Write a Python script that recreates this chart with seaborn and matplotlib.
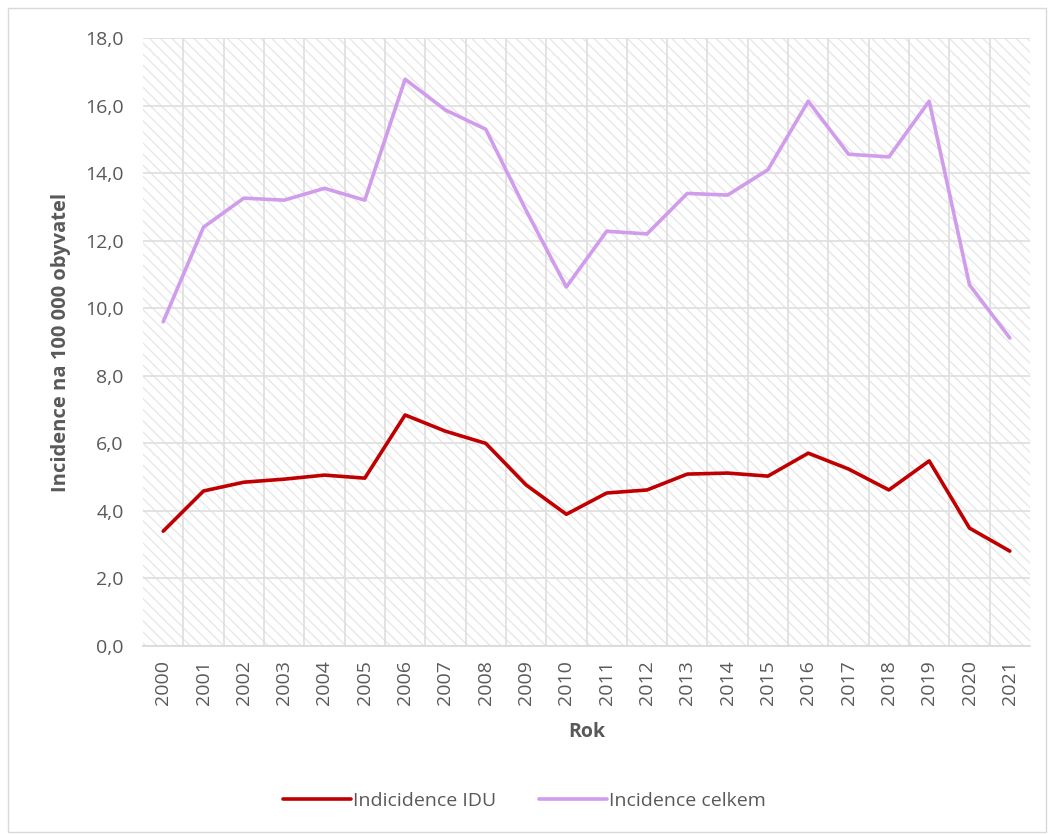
import matplotlib
matplotlib.use("Agg")
import matplotlib.pyplot as plt
import matplotlib.ticker as mticker
from matplotlib.patches import Rectangle
import pandas as pd
import seaborn as sns

# Data
years = list(range(2000, 2022))
idu = [3.40, 4.59, 4.85, 4.94, 5.06, 4.97, 6.84, 6.36, 6.00, 4.77, 3.90,
       4.53, 4.62, 5.09, 5.12, 5.03, 5.71, 5.24, 4.62, 5.48, 3.49, 2.81]
celkem = [9.60, 12.40, 13.26, 13.20, 13.55, 13.20, 16.78, 15.87, 15.30, 12.90, 10.63,
          12.28, 12.20, 13.40, 13.35, 14.10, 16.13, 14.56, 14.48, 16.13, 10.69, 9.12]
series_names = ["Indicidence IDU", "Incidence celkem"]
colors = ["#C00000", "#D09CEB"]

df = pd.DataFrame({"Rok": years, series_names[0]: idu, series_names[1]: celkem})
long_df = df.melt(id_vars="Rok", var_name="Serie", value_name="Hodnota")

sns.set_theme(style="white")
plt.rcParams["font.family"] = ["Open Sans", "DejaVu Sans"]
plt.rcParams["hatch.linewidth"] = 0.9
text_col = "#595959"
grid_col = "#E0E0E0"

fig = plt.figure(figsize=(10.48, 8.34), dpi=100)
ax = fig.add_axes([0.1365, 0.2254, 0.8463, 0.729])

# hatched plot area
ax.add_patch(Rectangle((0, 0), 1, 1, transform=ax.transAxes, facecolor="white",
                       edgecolor="#E6E6E6", linewidth=0, hatch="\\\\\\", zorder=0.5))

sns.lineplot(data=long_df, x="Rok", y="Hodnota", hue="Serie", palette=colors,
             hue_order=series_names, linewidth=2.6, ax=ax, zorder=3)

ax.set_xlim(years[0] - 0.5, years[-1] + 0.5)
ax.set_ylim(0, 18)
ax.set_xticks(years)
ax.set_xticklabels([str(y) for y in years], rotation=90)
ax.set_xticks([y + 0.5 for y in years[:-1]], minor=True)
ax.set_yticks([i * 2 for i in range(10)])
ax.yaxis.set_major_formatter(mticker.FuncFormatter(lambda v, p: f"{v:.1f}".replace(".", ",")))

ax.grid(axis="y", which="major", color=grid_col, linewidth=1.3, zorder=1)
ax.grid(axis="x", which="minor", color=grid_col, linewidth=1.3, zorder=1)
for s in ax.spines.values():
    s.set_visible(False)
ax.spines["bottom"].set_visible(True)
ax.spines["bottom"].set_color("#D9D9D9")

ax.tick_params(axis="both", which="both", length=0, labelsize=14, colors=text_col)
ax.tick_params(axis="x", pad=10)
ax.tick_params(axis="y", pad=14)
ax.set_xlabel("Rok", fontsize=14, fontweight="bold", color=text_col, labelpad=12)
ax.set_ylabel("Incidence na 100 000 obyvatel", fontsize=14.5, fontweight="bold",
              color=text_col, labelpad=10)

ax.legend(loc="center", bbox_to_anchor=(0.5, 0.04), bbox_transform=fig.transFigure,
          ncol=2, frameon=False, fontsize=14, handlelength=3.5, handletextpad=0.1,
          columnspacing=2.2, labelcolor=text_col, title=None)

# outer chart border
fig.patches.append(Rectangle((0.008, 0.002), 0.99, 0.988, transform=fig.transFigure,
                             fill=False, edgecolor="#D9D9D9", linewidth=1))

fig.savefig("out.png", dpi=100)
